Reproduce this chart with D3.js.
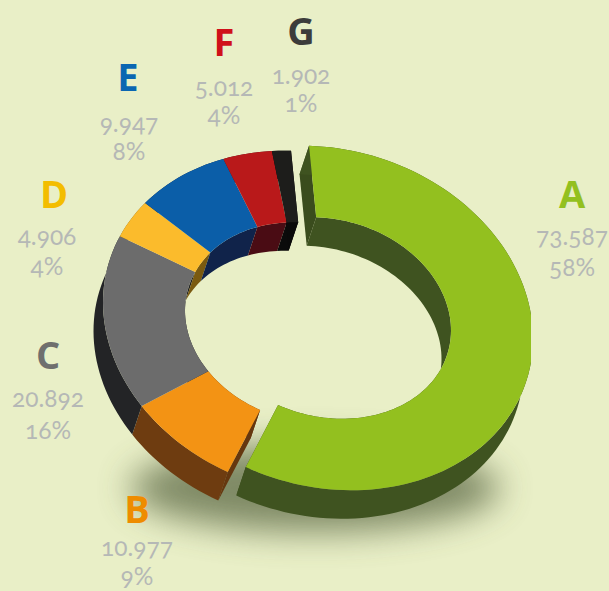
<!DOCTYPE html>
<html><head><meta charset="utf-8">
<script src="https://cdn.jsdelivr.net/npm/d3@7"></script>
<style>
html,body{margin:0;padding:0;background:#e9efc7}
svg{display:block}
text{text-anchor:middle}
.name{font-family:"Open Sans",sans-serif;font-weight:700;font-size:38px}
.val{font-family:"Lato",sans-serif;font-size:24.5px;fill:#b5b8b6;font-variant-numeric:oldstyle-nums;font-feature-settings:"onum"}
</style></head><body><script>
const categories=["A","B","C","D","E","F","G"];
const values=[73587,10977,20892,4906,9947,5012,1902];
const valueLabels=["73.587","10.977","20.892","4.906","9.947","5.012","1.902"];
const percentLabels=["58%","9%","16%","4%","8%","4%","1%"];
const topColors=["#93c01f","#f39314","#6c6c6c","#fbbb2c","#0b5ea8","#b9191a","#1d1d1b"];
const wallColors=["#3f5320","#6e3c10","#232426","#7a5a10","#10234a","#4a0c14","#0b0b0b"];
const labelColors=["#93c01f","#ee8c00","#6f6f6e","#f3bd00","#0a66b2","#d0101a","#3c3c3b"];
const nameX=[572,137,48,54,128,224,301];
const nameY=[208,523,369,208,91,56,45];
const valueX=[572,137,48,47,129,224,301];
const valueY=[245,556,407,245,132,96,84];
const percentY=[276,585,439,275,160,124,112];

const W=609,H=591;
const svg=d3.select("body").append("svg").attr("width",W).attr("height",H);
const defs=svg.append("defs");
defs.append("filter").attr("id","blur").attr("x","-30%").attr("y","-60%").attr("width","160%").attr("height","220%")
  .append("feGaussianBlur").attr("stdDeviation",17);
defs.append("clipPath").attr("id","clip").append("rect").attr("width",531).attr("height",H);

const toRad=d=>d*Math.PI/180;
const pie=d3.pie().sort(null).startAngle(toRad(-5)).endAngle(toRad(355));
const arcs=pie(values);
const Rx=206,Ry=171,rx=124,ry=100,dx=-9.5,dy=28.5,tilt=0.1;
const centreX=i=>i===0?327:309;
const centreY=i=>i===0?318:323;

function project(i,r1,r2,a){
  const x=r1*Math.sin(a);
  return [centreX(i)+x,centreY(i)-r2*Math.cos(a)+tilt*x];
}
const outer=(i,a)=>project(i,Rx,Ry,a), inner=(i,a)=>project(i,rx,ry,a);
const line=d3.line();
function samples(a){const n=Math.ceil((a.endAngle-a.startAngle)/toRad(2));return d3.range(n+1).map(k=>a.startAngle+(a.endAngle-a.startAngle)*k/n);}
const shift=p=>[p[0]+dx,p[1]+dy];

// ground shadow
svg.append("ellipse").attr("cx",315).attr("cy",488).attr("rx",185).attr("ry",44)
  .attr("fill","#56633f").attr("opacity",.72).attr("filter","url(#blur)");

const chart=svg.append("g").attr("clip-path","url(#clip)");
arcs.forEach((a,i)=>{
  const s=samples(a);
  const o=s.map(t=>outer(i,t)),n=s.map(t=>inner(i,t));
  const g=chart.append("g");
  g.append("path").attr("d",line(n.concat(n.map(shift).reverse()))+"Z").attr("fill",wallColors[i]);
  const last=o.length-1;
  const ends=i===0?[[o[0],n[0]],[o[last],n[last]]]:i===arcs.length-1?[[o[last],n[last]]]:i===1?[[o[0],n[0]]]:[];
  ends.forEach(e=>g.append("path").attr("d",line([e[0],e[1],shift(e[1]),shift(e[0])])+"Z").attr("fill",d3.color(wallColors[i]).darker(.25)));
  g.append("path").attr("d",line(o.concat(o.map(shift).reverse()))+"Z").attr("fill",wallColors[i]);
});
arcs.forEach((a,i)=>{
  const s=samples(a);
  const o=s.map(t=>outer(i,t)),n=s.map(t=>inner(i,t));
  chart.append("path").attr("d",line(o.concat(n.reverse()))+"Z").attr("fill",topColors[i]);
});

categories.forEach((c,i)=>{
  svg.append("text").attr("class","name").attr("x",nameX[i]).attr("y",nameY[i]).attr("fill",labelColors[i]).text(c);
  svg.append("text").attr("class","val").attr("x",valueX[i]).attr("y",valueY[i]).text(valueLabels[i]);
  svg.append("text").attr("class","val").attr("x",valueX[i]).attr("y",percentY[i]).text(percentLabels[i]);
});
</script></body></html>
